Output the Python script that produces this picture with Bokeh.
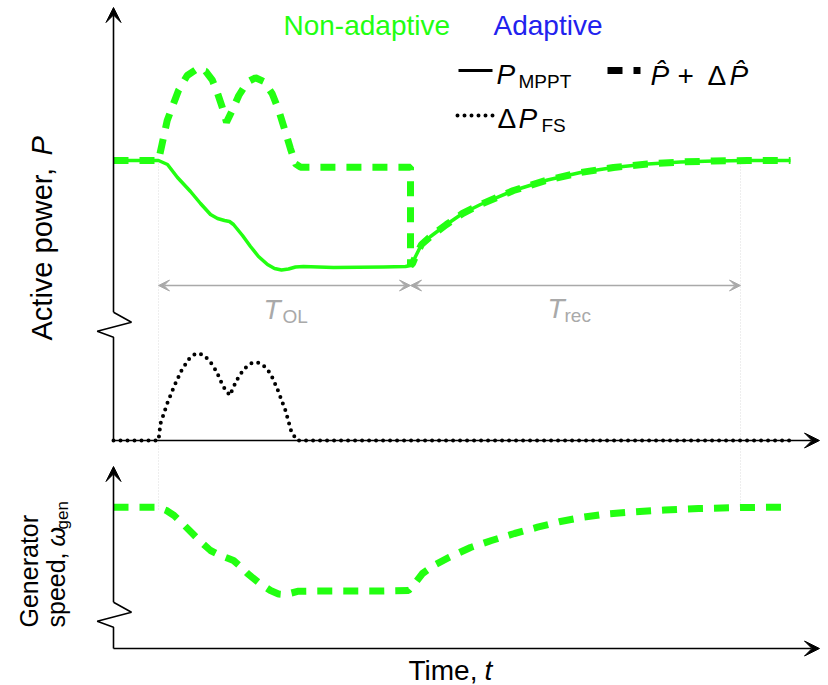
import numpy as np
from bokeh.plotting import figure
from bokeh.models import Range1d, Arrow, VeeHead, Label
from bokeh.embed import file_html
from bokeh.resources import INLINE

# ---------------- data (schematic, arbitrary units) ----------------
# time axis: arbitrary units, 0 = start of plot
t_fault = 45
t_ol_end = 297
t_rec_end = 627

# P_MPPT (solid)
time_mppt = [0, 45, 54, 64, 77, 87, 97, 104, 111, 116, 120, 129, 137, 145, 154, 161,
             168, 175, 182, 190, 220, 270, 292, 297, 299, 302, 308, 317, 333, 349,
             367, 400, 434, 467, 500, 534, 567, 600, 634, 677]
p_mppt = [280, 280, 276, 263, 249, 237, 226, 222, 220, 219, 216, 205, 194, 184, 176, 172,
          170.5, 171.5, 173.5, 174, 173, 173.5, 174, 175, 177, 184, 196, 204, 216, 227,
          236, 250, 260.5, 268, 273, 276.5, 278.5, 279.5, 280, 280]

# P_hat + dP_hat (dashed) during overloading; afterwards it follows P_MPPT
time_cmd = [0, 45, 48.7, 53.7, 58.7, 65, 73.7, 83.7, 92, 98.7, 103.7, 108.7, 113, 118.7,
            125.3, 133.7, 142, 150.3, 158.7, 165.3, 172, 177, 182, 187, 297]
p_cmd = [280, 280, 297, 320, 333.3, 350, 365, 371.7, 369.3, 360.7, 348.3, 333.3, 318.3, 330,
         345, 358.3, 362.7, 359, 346.7, 330, 308.3, 291.7, 276.7, 273.3, 273.3]

# dP_FS (dotted)
time_dpfs = [0, 45, 47, 53.7, 61, 68, 75, 82, 89, 96, 103, 109.7, 116.3, 123, 130, 137,
             143.7, 150, 157, 163.7, 172, 178, 183.7, 680]
dp_fs = [0, 0, 17, 37, 55, 70, 81, 87, 86, 80, 69, 54, 45, 60, 71, 77,
         78.3, 75, 67, 52, 30, 8.3, 0, 0]

# generator speed (dashed)
time_speed = [0, 44.5, 53, 60.6, 70, 79, 88, 97, 107, 115, 120, 127, 134, 145, 157, 165,
              171, 178, 185, 207, 267, 295, 302, 309, 322, 336, 357, 378, 401, 424, 447,
              470, 493, 516, 551, 585, 627, 677]
speed = [141.3, 141.3, 138, 133, 124, 115, 106, 98, 93, 90, 88, 82, 75, 66, 58, 54.5,
         54, 55.5, 57.3, 57.5, 57.5, 58, 66, 75, 84, 91.3, 101, 108, 115, 121.3, 127,
         131.3, 134.5, 136.3, 138.5, 140, 141, 141.3]

# command follows MPPT after the overloading period
tail = [(t, v) for t, v in zip(time_mppt, p_mppt) if t >= t_ol_end]
time_cmd_full = time_cmd + [t for t, _ in tail]
p_cmd_full = p_cmd + [v for _, v in tail]

# ---------------- styling ----------------
GREEN = "#22ff11"
BLUE = "#2222ee"
GRAY = "#a9a9a9"
FONT = "Liberation Sans"
FS = 28
SUB = 19

X0, Y0 = 113, 440  # pixel position of the origin of the upper panel


def X(px):
    return px - X0


def Y(py):
    return Y0 - py


p = figure(width=828, height=685, x_range=Range1d(-113, 715), y_range=Range1d(-245, 440),
           x_axis_type=None, y_axis_type=None, output_backend="svg",
           toolbar_location=None, min_border=0, outline_line_color=None,
           background_fill_color="white", border_fill_color="white")
p.extra_y_ranges = {"speed": Range1d(-37, 648)}

# faint guide lines
for gx in (t_fault, t_rec_end):
    p.line([gx, gx], [Y(160), Y(510)], line_color="#dddddd", line_width=1, line_dash="1 2")

# T_OL / T_rec arrows
for a, b in ((t_fault, t_ol_end), (t_ol_end, t_rec_end)):
    p.add_layout(Arrow(start=VeeHead(size=11, fill_color=GRAY, line_color=GRAY, line_width=1),
                       end=VeeHead(size=11, fill_color=GRAY, line_color=GRAY, line_width=1),
                       x_start=a, y_start=Y(285), x_end=b, y_end=Y(285),
                       line_color=GRAY, line_width=1.5))


def lab(sx, sy, text, size=FS, color="black", style="normal", rot=False):
    """(sx, sy): screen position of the text baseline start."""
    shift = 0.36 * size
    if rot:
        x, y, ang = X(sx - shift), Y(sy), np.pi / 2
    else:
        x, y, ang = X(sx), Y(sy - shift), 0.0
    p.add_layout(Label(x=x, y=y, text=text, text_font=FONT, text_font_size=f"{size}px",
                       text_color=color, text_font_style=style, text_align="left",
                       text_baseline="alphabetic", angle=ang))


lab(263, 319, "T", color=GRAY, style="italic")
lab(282, 323, "OL", size=SUB, color=GRAY)
lab(547, 318, "T", color=GRAY, style="italic")
lab(564, 322, "rec", size=SUB, color=GRAY)

# axes (hand-drawn with break marks)
AXC = "black"
head = dict(size=15, fill_color=AXC, line_color=AXC, line_width=1)
# upper panel
p.line([X(113), X(113), X(96.7), X(131), X(113)],
       [Y(440), Y(336.7), Y(330.7), Y(321.7), Y(311.7)], line_color=AXC, line_width=1.6)
p.add_layout(Arrow(end=VeeHead(**head), x_start=X(113), y_start=Y(311.7),
                   x_end=X(113), y_end=Y(7), line_color=AXC, line_width=1.6))
p.add_layout(Arrow(end=VeeHead(**head), x_start=X(113), y_start=Y(440),
                   x_end=X(819), y_end=Y(440), line_color=AXC, line_width=1.6))
# lower panel
p.line([X(113), X(113), X(96.7), X(131), X(113)],
       [Y(648), Y(626.7), Y(620.7), Y(611.7), Y(601.7)], line_color=AXC, line_width=1.6)
p.add_layout(Arrow(end=VeeHead(**head), x_start=X(113), y_start=Y(601.7),
                   x_end=X(113), y_end=Y(466), line_color=AXC, line_width=1.6))
p.add_layout(Arrow(end=VeeHead(**head), x_start=X(113), y_start=Y(648),
                   x_end=X(819), y_end=Y(648), line_color=AXC, line_width=1.6))

# data lines
p.line(time_dpfs, dp_fs, line_color="black", line_width=4, line_dash="0 7", line_cap="round")
p.line(time_mppt, p_mppt, line_color=GREEN, line_width=3.5, line_join="round")
p.line(time_cmd_full, p_cmd_full, line_color=GREEN, line_width=7, line_dash="15 11")
p.line(time_speed, speed, y_range_name="speed", line_color=GREEN, line_width=7,
       line_dash="15 11")

# header texts
lab(283, 35, "Non-adaptive", color=GREEN)
lab(493, 35, "Adaptive", color=BLUE)

# legend
p.line([X(458), X(492)], [Y(70), Y(70)], line_color="black", line_width=3)
lab(496, 84, "P", style="italic")
lab(518, 88, "MPPT", size=SUB)
p.line([X(607), X(640)], [Y(70), Y(70)], line_color="black", line_width=7, line_dash="15 11")
lab(650, 85, "P\u0302", style="italic")
lab(677, 85, "+")
lab(707, 85, "\u0394")
lab(729, 85, "P\u0302", style="italic")
p.line([X(457), X(495)], [Y(115), Y(115)], line_color="black", line_width=4,
       line_dash="0 7", line_cap="round")
lab(497, 128, "\u0394")
lab(518, 128, "P", style="italic")
lab(541, 132, "FS", size=SUB)

# axis titles
lab(52, 340, "Active power,", size=29, rot=True)
lab(52, 155, "P", size=29, style="italic", rot=True)
lab(37, 627, "Generator", size=25, rot=True)
lab(64, 627, "speed,", size=25, rot=True)
lab(64, 546, "\u03c9", size=25, style="italic", rot=True)
lab(68, 529, "gen", size=17, rot=True)
lab(408, 680, "Time,")
lab(484, 680, "t", style="italic")

open("out.html", "w").write(file_html(p, INLINE))
